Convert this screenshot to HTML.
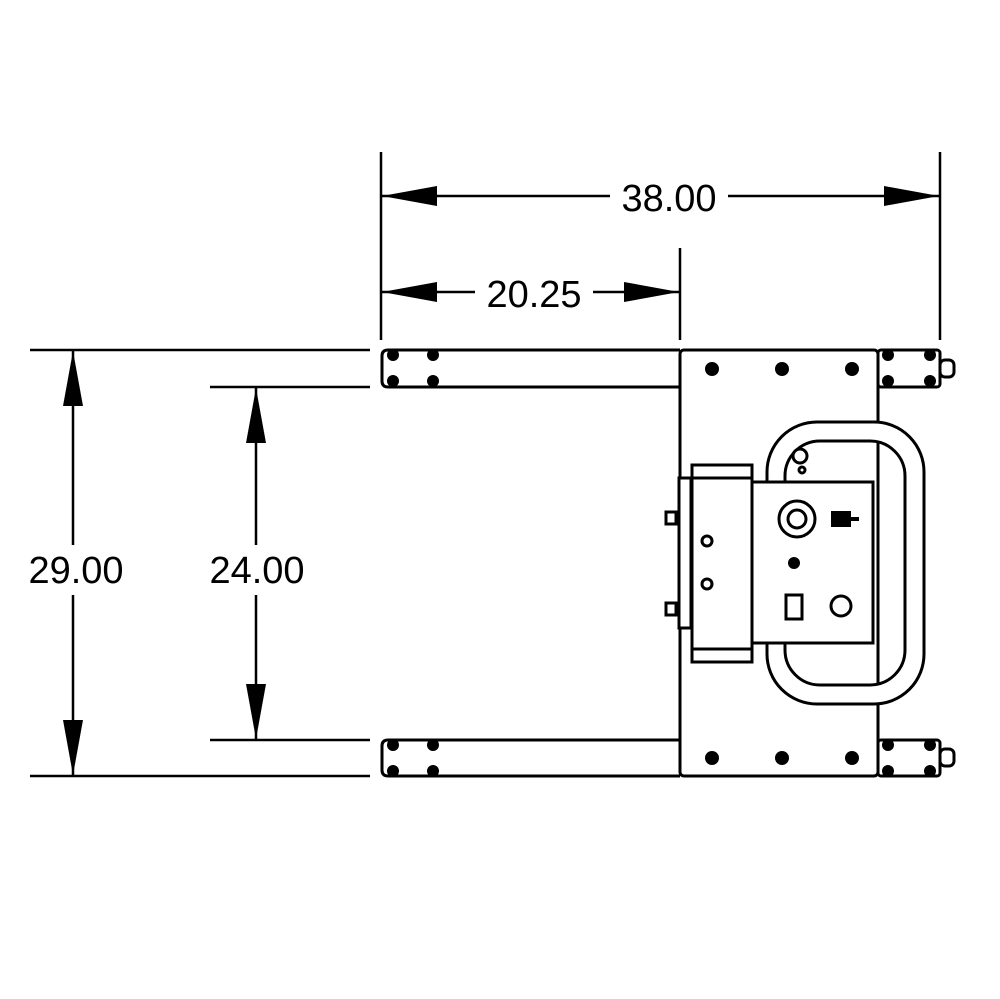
<!DOCTYPE html>
<html><head><style>body{margin:0;background:#fff}svg{display:block}</style></head><body>
<svg width="1000" height="999" viewBox="0 0 1000 999" xmlns="http://www.w3.org/2000/svg">
<g stroke="#000" stroke-width="2.5" fill="none">
<line x1="381" y1="152" x2="381" y2="340"/>
<line x1="940" y1="152" x2="940" y2="340"/>
<line x1="680" y1="248" x2="680" y2="340"/>
<line x1="30" y1="350" x2="370" y2="350"/>
<line x1="210" y1="387" x2="370" y2="387"/>
<line x1="210" y1="740" x2="370" y2="740"/>
<line x1="30" y1="776" x2="370" y2="776"/>
<line x1="381" y1="196" x2="610" y2="196"/>
<line x1="728" y1="196" x2="940" y2="196"/>
<line x1="381" y1="292" x2="475" y2="292"/>
<line x1="593" y1="292" x2="680" y2="292"/>
<line x1="73" y1="350" x2="73" y2="545"/>
<line x1="73" y1="595" x2="73" y2="776"/>
<line x1="256" y1="387" x2="256" y2="545"/>
<line x1="256" y1="595" x2="256" y2="740"/>
</g>
<g fill="#000">
<polygon points="382,196 437,186 437,206"/>
<polygon points="939,196 884,186 884,206"/>
<polygon points="382,292 437,282 437,302"/>
<polygon points="679,292 624,282 624,302"/>
<polygon points="73,351 63,406 83,406"/>
<polygon points="73,775 63,720 83,720"/>
<polygon points="256,388 246,443 266,443"/>
<polygon points="256,739 246,684 266,684"/>
</g>
<g font-family="Liberation Sans, sans-serif" font-size="38" text-anchor="middle" fill="#000">
<text x="669" y="211">38.00</text>
<text x="534" y="307">20.25</text>
<text x="76" y="583">29.00</text>
<text x="257" y="583">24.00</text>
</g>
<g stroke="#000" stroke-width="3" fill="#fff">
<path d="M680,350 H388 Q382,350 382,356 V381 Q382,387 388,387 H680"/>
<path d="M680,740 H388 Q382,740 382,746 V770 Q382,776 388,776 H680"/>
<rect x="878" y="350" width="62" height="37" rx="3"/>
<rect x="878" y="740" width="62" height="36" rx="3"/>
<rect x="940" y="360" width="14" height="17" rx="5"/>
<rect x="940" y="749" width="14" height="17" rx="5"/>
<rect x="680" y="350" width="198" height="426" rx="4"/>
<rect x="767" y="422" width="157" height="282" rx="50"/>
<rect x="785" y="441" width="120" height="244" rx="35"/>
<line x1="878" y1="441" x2="878" y2="685"/>
<rect x="679" y="478" width="12" height="150"/>
<rect x="692" y="465" width="60" height="197"/>
<line x1="692" y1="478" x2="752" y2="478"/>
<line x1="692" y1="649" x2="752" y2="649"/>
<rect x="752" y="482" width="121" height="161"/>
<rect x="666" y="512" width="10" height="12"/>
<rect x="666" y="603" width="10" height="12"/>
<circle cx="707" cy="541" r="5"/>
<circle cx="707" cy="584" r="5"/>
<circle cx="800" cy="456" r="7"/>
<circle cx="802" cy="470" r="3"/>
<circle cx="797" cy="519" r="18"/>
<circle cx="797" cy="519" r="9"/>
<rect x="786" y="595" width="16" height="24"/>
<circle cx="841" cy="606" r="10"/>
</g>
<g fill="#000">
<rect x="831" y="511" width="20" height="16"/>
<rect x="850" y="517" width="9" height="4"/>
<circle cx="794" cy="563" r="6"/>
<circle cx="393" cy="355" r="6"/><circle cx="393" cy="381" r="6"/>
<circle cx="433" cy="355" r="6"/><circle cx="433" cy="381" r="6"/>
<circle cx="393" cy="745" r="6"/><circle cx="393" cy="771" r="6"/>
<circle cx="433" cy="745" r="6"/><circle cx="433" cy="771" r="6"/>
<circle cx="888" cy="355" r="6"/><circle cx="888" cy="381" r="6"/>
<circle cx="930" cy="355" r="6"/><circle cx="930" cy="381" r="6"/>
<circle cx="888" cy="745" r="6"/><circle cx="888" cy="771" r="6"/>
<circle cx="930" cy="745" r="6"/><circle cx="930" cy="771" r="6"/>
<circle cx="712" cy="369" r="7"/><circle cx="782" cy="369" r="7"/><circle cx="852" cy="369" r="7"/>
<circle cx="712" cy="758" r="7"/><circle cx="782" cy="758" r="7"/><circle cx="852" cy="758" r="7"/>
</g>
</svg>
</body></html>
